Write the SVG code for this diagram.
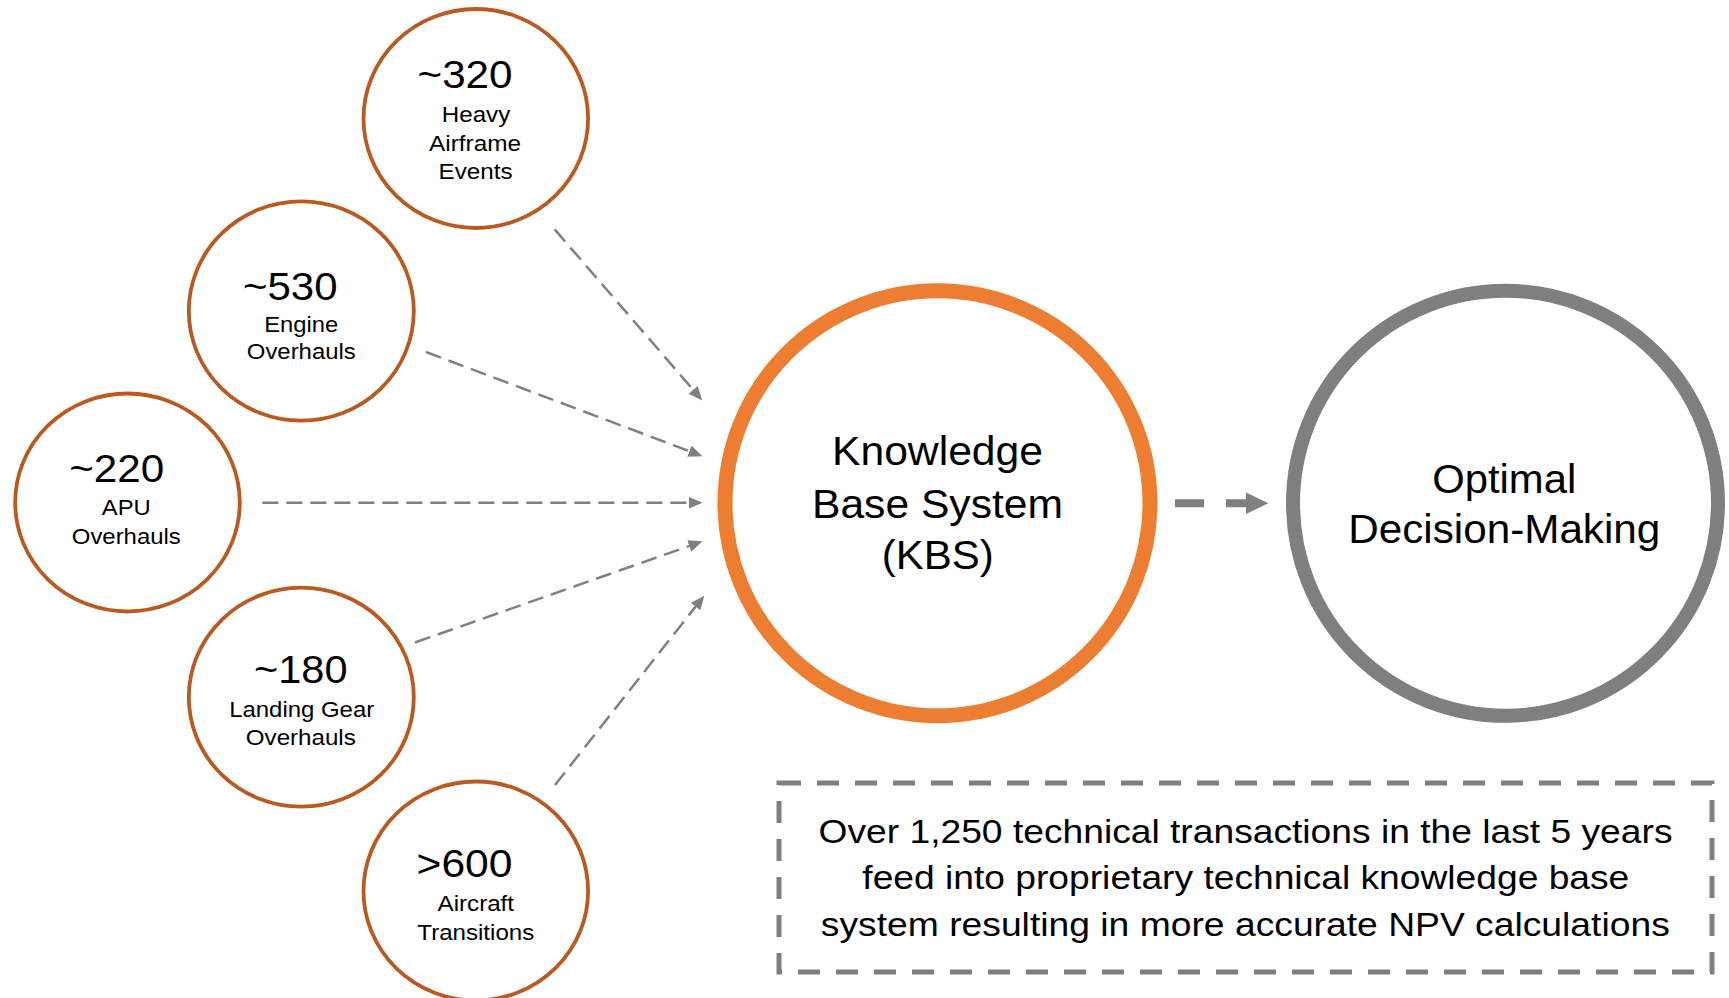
<svg xmlns="http://www.w3.org/2000/svg" width="1729" height="998" viewBox="0 0 1729 998">
  <style>
    text { font-family: "Liberation Sans", Arial, Helvetica, sans-serif; fill: #000; text-anchor: middle; }
    .src { fill: #fff; stroke: #B85A22; stroke-width: 3.8; }
    .num { font-size: 38.5px; }
    .lbl { font-size: 22px; }
    .big { font-size: 40px; }
    .note { font-size: 34px; }
    .feed { fill: none; stroke: #808080; stroke-width: 2.5; stroke-dasharray: 16 8; marker-end: url(#head); }
  </style>
  <defs>
    <marker id="head" markerUnits="userSpaceOnUse" markerWidth="16" markerHeight="13" refX="4.5" refY="6" orient="auto">
      <path d="M0,0 L14,6 L0,12 Z" fill="#808080"/>
    </marker>
  </defs>

  <rect width="1729" height="998" fill="#fff"/>

  <!-- connectors -->
  <g id="connectors">
    <line class="feed" x1="554.7" y1="229.4" x2="696.1" y2="393.2"/>
    <line class="feed" x1="426" y1="352" x2="693.6" y2="452.8"/>
    <line class="feed" x1="262.4" y1="502.8" x2="693" y2="502.8"/>
    <line class="feed" x1="415" y1="642.5" x2="693.5" y2="544.5"/>
    <line class="feed" x1="555" y1="785" x2="698.4" y2="603.1"/>
    <!-- KBS to decision-making -->
    <line x1="1175" y1="503.3" x2="1250" y2="503.3" stroke="#808080" stroke-width="8" stroke-dasharray="29 22"/>
    <path d="M1246,492.6 L1268.3,503.3 L1246,514 Z" fill="#808080"/>
  </g>

  <!-- source counts -->
  <g id="node-airframe">
    <ellipse class="src" cx="475.8" cy="118.5" rx="112.3" ry="109.5"/>
    <text class="num" x="465" y="88.3" textLength="95" lengthAdjust="spacingAndGlyphs">~320</text>
    <text class="lbl" x="476" y="121.7" textLength="68.5" lengthAdjust="spacingAndGlyphs">Heavy</text>
    <text class="lbl" x="475" y="150.7" textLength="92" lengthAdjust="spacingAndGlyphs">Airframe</text>
    <text class="lbl" x="475.5" y="179" textLength="74" lengthAdjust="spacingAndGlyphs">Events</text>
  </g>

  <g id="node-engine">
    <ellipse class="src" cx="301.3" cy="311" rx="112.5" ry="109.7"/>
    <text class="num" x="290.3" y="300" textLength="94.5" lengthAdjust="spacingAndGlyphs">~530</text>
    <text class="lbl" x="301.2" y="331.7" textLength="74" lengthAdjust="spacingAndGlyphs">Engine</text>
    <text class="lbl" x="301.3" y="359.3" textLength="109" lengthAdjust="spacingAndGlyphs">Overhauls</text>
  </g>

  <g id="node-apu">
    <ellipse class="src" cx="127.5" cy="502.5" rx="112.3" ry="109"/>
    <text class="num" x="116.7" y="481.7" textLength="95" lengthAdjust="spacingAndGlyphs">~220</text>
    <text class="lbl" x="126.3" y="515" textLength="49" lengthAdjust="spacingAndGlyphs">APU</text>
    <text class="lbl" x="126.3" y="544.3" textLength="109" lengthAdjust="spacingAndGlyphs">Overhauls</text>
  </g>

  <g id="node-landing-gear">
    <ellipse class="src" cx="301.3" cy="697.2" rx="112.5" ry="109.5"/>
    <text class="num" x="300.8" y="683.3" textLength="93.5" lengthAdjust="spacingAndGlyphs">~180</text>
    <text class="lbl" x="301.7" y="716.7" textLength="145" lengthAdjust="spacingAndGlyphs">Landing Gear</text>
    <text class="lbl" x="300.8" y="745" textLength="110" lengthAdjust="spacingAndGlyphs">Overhauls</text>
  </g>

  <g id="node-transitions">
    <ellipse class="src" cx="475.8" cy="891" rx="112.3" ry="109.5"/>
    <text class="num" x="464.5" y="876.7" textLength="96" lengthAdjust="spacingAndGlyphs">&gt;600</text>
    <text class="lbl" x="475.8" y="910.7" textLength="76.5" lengthAdjust="spacingAndGlyphs">Aircraft</text>
    <text class="lbl" x="475.8" y="940" textLength="117" lengthAdjust="spacingAndGlyphs">Transitions</text>
  </g>

  <!-- knowledge base -->
  <g id="node-kbs">
    <circle cx="937.5" cy="503.3" r="212.5" fill="#fff" stroke="#ED7D31" stroke-width="15"/>
    <text class="big" x="937.5" y="465" textLength="211" lengthAdjust="spacingAndGlyphs">Knowledge</text>
    <text class="big" x="937.5" y="518.3" textLength="251" lengthAdjust="spacingAndGlyphs">Base System</text>
    <text class="big" x="937.7" y="569" textLength="112" lengthAdjust="spacingAndGlyphs">(KBS)</text>
  </g>

  <!-- outcome -->
  <g id="node-decision">
    <circle cx="1505.5" cy="503.3" r="212.5" fill="#fff" stroke="#7F7F7F" stroke-width="14"/>
    <text class="big" x="1504.2" y="492.7" textLength="144" lengthAdjust="spacingAndGlyphs">Optimal</text>
    <text class="big" x="1504.3" y="543.3" textLength="312" lengthAdjust="spacingAndGlyphs">Decision-Making</text>
  </g>

  <!-- summary note -->
  <g id="node-note">
    <rect x="779" y="783" width="933" height="189" fill="none" stroke="#7F7F7F" stroke-width="5" stroke-dasharray="22 16"/>
    <text class="note" x="1245.5" y="843.3" textLength="854" lengthAdjust="spacingAndGlyphs">Over 1,250 technical transactions in the last 5 years</text>
    <text class="note" x="1245.8" y="889.3" textLength="767" lengthAdjust="spacingAndGlyphs">feed into proprietary technical knowledge base</text>
    <text class="note" x="1245.3" y="935.5" textLength="849" lengthAdjust="spacingAndGlyphs">system resulting in more accurate NPV calculations</text>
  </g>
</svg>
